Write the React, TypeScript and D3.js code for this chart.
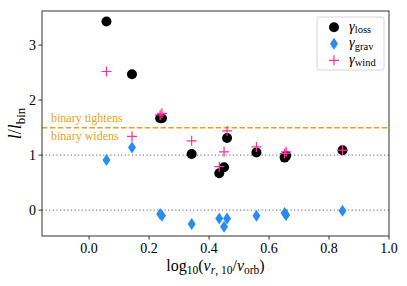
import * as d3 from "d3";
import * as React from "react";

// one value per system
const logRatio = [0.058, 0.143, 0.237, 0.243, 0.342, 0.434, 0.45, 0.46, 0.558, 0.652, 0.657, 0.845];
const gammaLoss = [3.43, 2.47, 1.67, 1.67, 1.02, 0.67, 0.78, 1.31, 1.05, 0.955, 0.99, 1.09];
const gammaGrav = [0.91, 1.14, -0.07, -0.1, -0.25, -0.15, -0.3, -0.15, -0.1, -0.05, -0.09, -0.01];
const gammaWind = [2.52, 1.34, 1.73, 1.76, 1.26, 0.79, 1.06, 1.44, 1.15, 1.03, 1.06, 1.09];

const xTicks = [0, 0.2, 0.4, 0.6, 0.8, 1.0];
const yTicks = [0, 1, 2, 3];
const refLines = [0, 1];
const splitLine = 1.5;
const legendItems = ["loss", "grav", "wind"];

const W = 407;
const H = 286;
const margin = { top: 11, right: 18, bottom: 50, left: 42 };
const FONT = "Liberation Serif, DejaVu Serif, serif";
const ORANGE = "#e5a322";
const BLUE = "#2b8cf0";
const PINK = "#f5329a";

const Circle = ({ x, y }: { x: number; y: number }) => <circle cx={x} cy={y} r={5} fill="black" />;
const Diamond = ({ x, y }: { x: number; y: number }) => (
  <path d={`M${x},${y - 6}L${x + 4},${y}L${x},${y + 6}L${x - 4},${y}Z`} fill={BLUE} />
);
const Plus = ({ x, y }: { x: number; y: number }) => (
  <path d={`M${x - 5},${y}H${x + 5}M${x},${y - 5}V${y + 5}`} stroke={PINK} strokeWidth={1.2} fill="none" />
);
const markers = [Circle, Diamond, Plus];

export default function App() {
  const innerW = W - margin.left - margin.right;
  const innerH = H - margin.top - margin.bottom;
  const x = d3.scaleLinear().domain([-0.157, 1.0]).range([margin.left, margin.left + innerW]);
  const y = d3.scaleLinear().domain([-0.47, 3.62]).range([margin.top + innerH, margin.top]);
  const x0 = margin.left;
  const x1 = margin.left + innerW;
  const y0 = margin.top + innerH;

  return (
    <svg width={W} height={H} style={{ position: "absolute", left: 0, top: 0, fontFamily: FONT }}>
      <rect width={W} height={H} fill="white" />
      {refLines.map((v) => (
        <line key={v} x1={x0} x2={x1} y1={y(v)} y2={y(v)} stroke="#808080" strokeWidth={1.2} strokeDasharray="1.2,2.4" />
      ))}
      <line x1={x0} x2={x1} y1={y(splitLine)} y2={y(splitLine)} stroke={ORANGE} strokeWidth={1.5} strokeDasharray="5.5,2.4" />
      <text x={x0 + 9} y={y(splitLine) - 6} fontSize={12} fill={ORANGE}>binary tightens</text>
      <text x={x0 + 9} y={y(splitLine) + 12} fontSize={12} fill={ORANGE}>binary widens</text>

      {logRatio.map((v, i) => <Circle key={"l" + i} x={x(v)} y={y(gammaLoss[i])} />)}
      {logRatio.map((v, i) => <Diamond key={"g" + i} x={x(v)} y={y(gammaGrav[i])} />)}
      {logRatio.map((v, i) => <Plus key={"w" + i} x={x(v)} y={y(gammaWind[i])} />)}

      <rect x={x0} y={margin.top} width={innerW} height={innerH} fill="none" stroke="#333" strokeWidth={1} />

      {xTicks.map((t) => (
        <g key={t}>
          <line x1={x(t)} x2={x(t)} y1={y0} y2={y0 + 3.5} stroke="#333" />
          <text x={x(t)} y={y0 + 17} fontSize={14} textAnchor="middle">{t.toFixed(1)}</text>
        </g>
      ))}
      {yTicks.map((t) => (
        <g key={t}>
          <line x1={x0 - 3.5} x2={x0} y1={y(t)} y2={y(t)} stroke="#333" />
          <text x={x0 - 6} y={y(t) + 4.8} fontSize={14} textAnchor="end">{t}</text>
        </g>
      ))}

      <text x={(x0 + x1) / 2} y={H - 15} fontSize={16} textAnchor="middle">
        log<tspan fontSize={11.5} dy={3}>10</tspan>
        <tspan dy={-3}>(</tspan>
        <tspan fontStyle="italic">v</tspan>
        <tspan fontSize={11.5} dy={3}><tspan fontStyle="italic">r</tspan>, 10</tspan>
        <tspan dy={-3}>/</tspan>
        <tspan fontStyle="italic">v</tspan>
        <tspan fontSize={11.5} dy={3}>orb</tspan>
        <tspan dy={-3}>)</tspan>
      </text>
      <text transform={`translate(21,${(margin.top + y0) / 2}) rotate(-90)`} fontSize={18} textAnchor="middle">
        <tspan fontStyle="italic">l</tspan>/<tspan fontStyle="italic">l</tspan>
        <tspan fontSize={13} dy={3.5}>bin</tspan>
      </text>

      <g>
        <rect x={317} y={17} width={67} height={53} rx={2.5} fill="white" stroke="#d6d6d6" strokeWidth={1} />
        {legendItems.map((s, i) => {
          const M = markers[i];
          const yy = 27.3 + i * 16.5;
          return (
            <g key={s}>
              <M x={334} y={yy} />
              <text x={349} y={yy + 3.5} fontSize={14.5}>
                <tspan fontStyle="italic">γ</tspan>
                <tspan fontSize={10.5} dy={2.5}>{s}</tspan>
              </text>
            </g>
          );
        })}
      </g>
    </svg>
  );
}
